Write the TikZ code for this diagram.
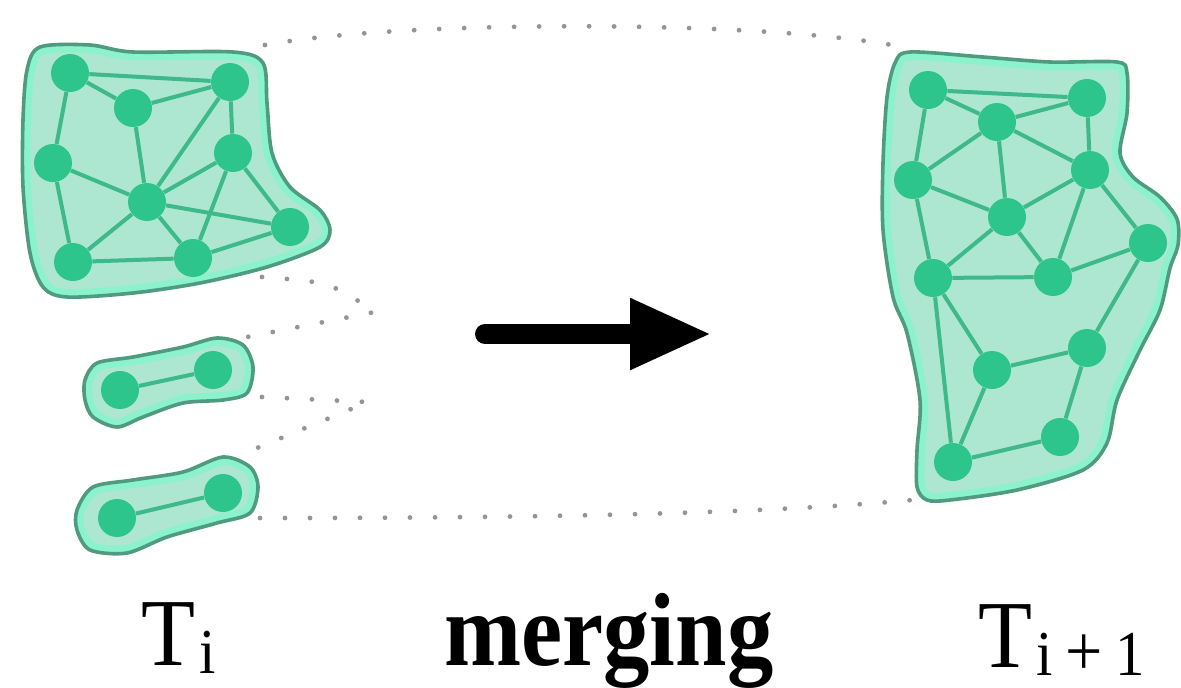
\documentclass[tikz,border=0pt]{standalone}
\usepackage{fontspec}
\setmainfont{Liberation Serif}
\usepackage{graphicx}
\usetikzlibrary{arrows.meta}

\definecolor{blobfill}{HTML}{ADE7D1}
\definecolor{blobhalo}{HTML}{8AF2CC}
\definecolor{blobline}{HTML}{4F9B80}
\definecolor{vert}{HTML}{2DC58B}
\definecolor{edgec}{HTML}{3DB98A}
\definecolor{dotc}{HTML}{959595}

\newcommand\myblob[1]{%
  \begin{scope}
    \fill[blobfill] plot[smooth cycle] coordinates {#1};
    \clip plot[smooth cycle] coordinates {#1};
    \draw[blobhalo, line width=8pt] plot[smooth cycle] coordinates {#1};
  \end{scope}
  \draw[blobline, line width=1.8pt] plot[smooth cycle] coordinates {#1};
}

\begin{document}
\begin{tikzpicture}[x=0.5pt, y=-0.5pt,
  vtx/.style={circle, fill=vert, minimum size=19pt, inner sep=0pt},
  edg/.style={edgec, line width=2pt},
  dotline/.style={dotc, line width=2.4pt, line cap=round, dash pattern=on 0pt off 12.5pt},
  lbl/.style={anchor=base west, inner sep=0pt, font=\fontsize{48}{48}\selectfont},
]
\useasboundingbox[fill=white] (0,0) rectangle (1181,687);

% ---- blobs ----
\myblob{(40,47) (90,45) (133,52) (233,52) (263,63) (267,103) (272,153) (290,187) (320,210) (330,230) (320,247) (267,267) (200,283) (133,293) (67,297) (43,287) (30,253) (23,187) (23,120) (27,70)}
\myblob{(85,380) (97,363) (133,357) (183,347) (217,338) (243,345) (253,367) (247,393) (223,400) (183,403) (143,417) (117,427) (93,417) (85,400)}
\myblob{(77,510) (93,487) (133,480) (183,472) (223,457) (250,467) (258,487) (250,513) (217,523) (167,537) (127,553) (90,550) (77,530)}
\myblob{(910,52) (983,57) (1050,62) (1117,62) (1127,73) (1127,113) (1120,153) (1133,177) (1160,197) (1177,219) (1178,245) (1170,268) (1160,310) (1140,350) (1117,400) (1107,443) (1083,470) (1017,490) (950,500) (927,500) (917,487) (917,450) (920,400) (907,333) (893,297) (883,230) (883,163) (887,97) (895,63)}

% ---- left big graph ----
\node[vtx] (A) at (70,73) {};
\node[vtx] (B) at (133,108) {};
\node[vtx] (C) at (230,82) {};
\node[vtx] (D) at (53,163) {};
\node[vtx] (E) at (233,153) {};
\node[vtx] (F) at (147,202) {};
\node[vtx] (G) at (290,227) {};
\node[vtx] (H) at (73,262) {};
\node[vtx] (I) at (193,258) {};
\foreach \u/\v in {A/C,A/B,B/C,A/D,B/F,C/F,C/E,D/F,D/H,H/F,H/I,F/I,F/G,E/F,E/I,E/G,I/G}
  \draw[edg] (\u) -- (\v);

% ---- small graphs ----
\node[vtx] (p1) at (120,390) {};
\node[vtx] (p2) at (213,370) {};
\node[vtx] (q1) at (117,518) {};
\node[vtx] (q2) at (223,493) {};
\draw[edg] (p1) -- (p2);
\draw[edg] (q1) -- (q2);

% ---- right big graph ----
\node[vtx] (a) at (928,90) {};
\node[vtx] (b) at (1087,98) {};
\node[vtx] (c) at (997,122) {};
\node[vtx] (d) at (913,180) {};
\node[vtx] (e) at (1090,170) {};
\node[vtx] (f) at (1007,217) {};
\node[vtx] (g) at (1148,243) {};
\node[vtx] (h) at (933,278) {};
\node[vtx] (i) at (1053,277) {};
\node[vtx] (j) at (992,370) {};
\node[vtx] (k) at (1087,348) {};
\node[vtx] (l) at (1060,437) {};
\node[vtx] (m) at (953,462) {};
\foreach \u/\v in {a/b,a/c,c/b,a/d,c/d,c/f,c/e,b/e,d/f,d/h,f/h,f/i,e/f,e/i,e/g,h/i,i/g,h/m,h/j,j/k,j/m,k/l,l/m,g/k}
  \draw[edg] (\u) -- (\v);

% ---- dotted connectors ----
\coordinate (t1) at (265,45);
\coordinate (t2) at (892,45);
\draw[dotline] (t1) .. controls (400,20) and (750,20) .. (t2);
\coordinate (b1) at (260,518);
\coordinate (b2) at (912,500);
\draw[dotline] (b1) .. controls (500,518) and (750,515) .. (b2);
\coordinate (z1a) at (262,277);
\coordinate (z1b) at (375,312);
\coordinate (z1c) at (247,337);
\draw[dotline] (z1a) .. controls (330,282) .. (z1b) -- (z1c);
\coordinate (z2a) at (262,397);
\coordinate (z2b) at (368,402);
\coordinate (z2c) at (257,448);
\draw[dotline] (z2a) -- (z2b) -- (z2c);

% ---- arrow ----
\coordinate (ar1) at (485,334);
\coordinate (ar2) at (712,334);
\draw[line width=10pt, line cap=round, -{Triangle[length=41pt, width=33pt]}] (ar1) -- (ar2);

% ---- labels ----
\node[lbl] (ti) at (141,665) {\scalebox{0.92}[1]{T\kern2pt\raisebox{-4pt}{\fontsize{32}{32}\selectfont i}}};
\node[lbl, font=\fontsize{52}{52}\selectfont\bfseries] (mg) at (444,665) {\scalebox{0.89}[1]{merging}};
\node[lbl] (tj) at (978,667) {\scalebox{0.92}[1]{T\kern2pt\raisebox{-4pt}{\fontsize{32}{32}\selectfont i\kern7pt{\fontsize{36}{36}\selectfont +}\kern7pt1}}};
\end{tikzpicture}
\end{document}
